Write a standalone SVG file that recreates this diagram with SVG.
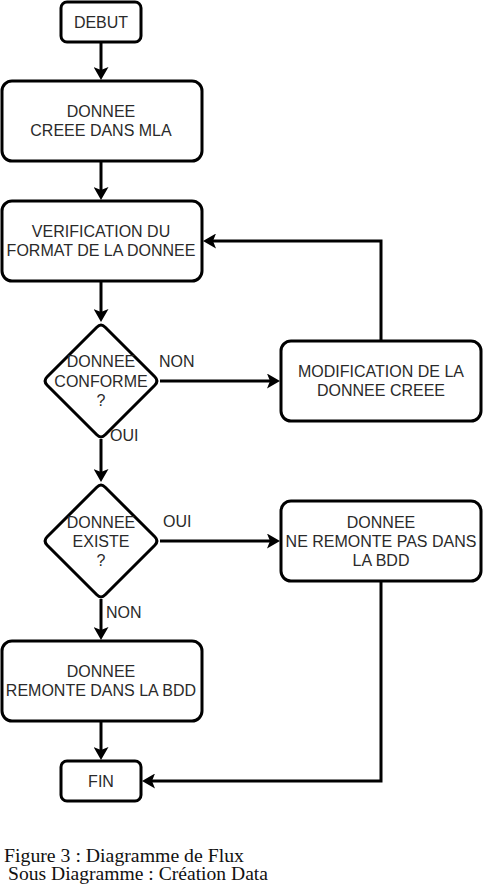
<svg xmlns="http://www.w3.org/2000/svg" width="483" height="892" viewBox="0 0 483 892">
<style>
.box{fill:#fff;stroke:#000;stroke-width:3}
.t{font-family:"Liberation Sans",Arial,sans-serif;font-size:16px;fill:#2a2a2a;text-anchor:middle}
.lbl{font-family:"Liberation Sans",Arial,sans-serif;font-size:16px;fill:#2a2a2a}
.cap{font-family:"Liberation Serif","Times New Roman",serif;font-size:18px;fill:#111}
.c{fill:none;stroke:#000;stroke-width:3;marker-end:url(#ah)}
</style>
<defs>
<marker id="ah" markerUnits="userSpaceOnUse" viewBox="0 0 13 15" refX="3" refY="7.5" markerWidth="13" markerHeight="15" orient="auto">
<path d="M0,0 L13,7.5 L0,15 L3,7.5 Z" fill="#000"/>
</marker>
</defs>
<rect width="483" height="892" fill="#fff"/>
<g id="connectors">
<path class="c" d="M101,42 V70"/>
<path class="c" d="M101,161 V190"/>
<path class="c" d="M101,281 V312"/>
<path class="c" d="M160,381 H270"/>
<path class="c" d="M381,341 V241 H213"/>
<path class="c" d="M101,439 V472"/>
<path class="c" d="M160,541 H270"/>
<path class="c" d="M101,599 V630"/>
<path class="c" d="M101,721 V750"/>
<path class="c" d="M381,581 V781 H152"/>
</g>
<g id="debut">
<rect class="box" x="61" y="2" width="80" height="40" rx="6"/>
<text class="t" x="101" y="28">DEBUT</text>
</g>
<g id="creee">
<rect class="box" x="2" y="81" width="200" height="80" rx="10"/>
<text class="t" x="101" y="117">DONNEE</text>
<text class="t" x="101" y="136">CREEE DANS MLA</text>
</g>
<g id="verification">
<rect class="box" x="2" y="201" width="200" height="80" rx="10"/>
<text class="t" x="101" y="237">VERIFICATION DU</text>
<text class="t" x="101" y="256">FORMAT DE LA DONNEE</text>
</g>
<g id="conforme">
<path class="box" d="M105.2,327.2 L154.8,376.8 Q159,381 154.8,385.2 L105.2,434.8 Q101,439 96.8,434.8 L47.2,385.2 Q43,381 47.2,376.8 L96.8,327.2 Q101,323 105.2,327.2 Z"/>
<text class="t" x="101" y="367">DONNEE</text>
<text class="t" x="101" y="387">CONFORME</text>
<text class="t" x="101" y="406">?</text>
</g>
<g id="modification">
<rect class="box" x="281" y="341" width="200" height="80" rx="10"/>
<text class="t" x="381" y="377">MODIFICATION DE LA</text>
<text class="t" x="381" y="396">DONNEE CREEE</text>
</g>
<g id="existe">
<path class="box" d="M105.2,487.2 L154.8,536.8 Q159,541 154.8,545.2 L105.2,594.8 Q101,599 96.8,594.8 L47.2,545.2 Q43,541 47.2,536.8 L96.8,487.2 Q101,483 105.2,487.2 Z"/>
<text class="t" x="101" y="528">DONNEE</text>
<text class="t" x="101" y="547">EXISTE</text>
<text class="t" x="101" y="566">?</text>
</g>
<g id="neremonte">
<rect class="box" x="281" y="501" width="200" height="80" rx="10"/>
<text class="t" x="381" y="528">DONNEE</text>
<text class="t" x="381" y="547">NE REMONTE PAS DANS</text>
<text class="t" x="381" y="566">LA BDD</text>
</g>
<g id="remonte">
<rect class="box" x="2" y="641" width="200" height="80" rx="10"/>
<text class="t" x="101" y="677">DONNEE</text>
<text class="t" x="101" y="696">REMONTE DANS LA BDD</text>
</g>
<g id="fin">
<rect class="box" x="61" y="761" width="80" height="40" rx="6"/>
<text class="t" x="101" y="787">FIN</text>
</g>
<g id="labels">
<text class="lbl" x="159" y="367">NON</text>
<text class="lbl" x="110" y="441">OUI</text>
<text class="lbl" x="163" y="527">OUI</text>
<text class="lbl" x="106" y="618">NON</text>
</g>
<g id="caption">
<text class="cap" x="4" y="862" textLength="240" lengthAdjust="spacingAndGlyphs">Figure 3 : Diagramme de Flux</text>
<text class="cap" x="8" y="880" textLength="260" lengthAdjust="spacingAndGlyphs">Sous Diagramme : Création Data</text>
</g>
</svg>
